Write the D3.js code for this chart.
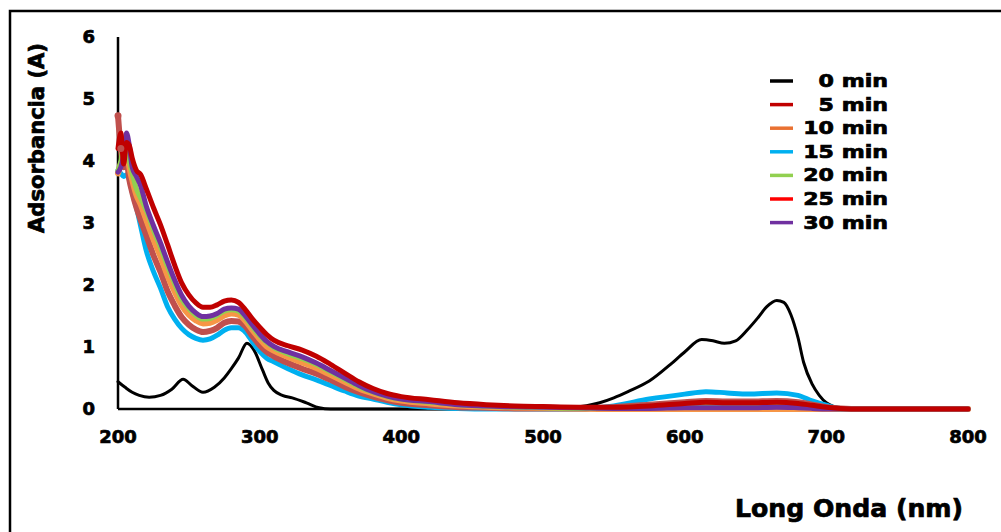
<!DOCTYPE html>
<html>
<head>
<meta charset="utf-8">
<script src="https://cdn.jsdelivr.net/npm/d3@7"></script>
<style>
  body { margin: 0; background: #fff; }
  svg { display: block; font-family: "DejaVu Sans", sans-serif; font-weight: bold; }
  text { stroke: #000; stroke-width: 0.7px; }
</style>
</head>
<body>
<svg id="chart" width="1001" height="532"></svg>
<script>
// UV-Vis spectra, absorbance vs wavelength, one curve per time

const xTicks = [200, 300, 400, 500, 600, 700, 800];
const yTicks = [0, 1, 2, 3, 4, 5, 6];

// 0 min has its own wavelength grid (sharp bands)
const wavelengths0 = [200, 205, 210, 215, 222, 230, 238, 246, 252, 260, 268, 275, 280, 285, 291, 296, 302, 306, 310, 316, 323, 333, 342, 350, 400, 450, 500, 520, 540, 550, 560, 575, 590, 600, 612, 620, 628, 636, 644, 652, 658, 665, 670, 675, 680, 684, 690, 695, 700, 705, 712, 720, 800];
const absorb0 = [0.44, 0.35, 0.27, 0.22, 0.19, 0.22, 0.32, 0.48, 0.38, 0.27, 0.35, 0.5, 0.65, 0.82, 1.06, 0.95, 0.63, 0.42, 0.3, 0.22, 0.18, 0.1, 0.02, 0, 0, 0, 0, 0.02, 0.1, 0.18, 0.28, 0.45, 0.72, 0.92, 1.12, 1.1, 1.06, 1.1, 1.27, 1.48, 1.65, 1.75, 1.72, 1.52, 1.15, 0.75, 0.4, 0.22, 0.1, 0.04, 0.01, 0, 0];

// shared grid for the other times
const wavelengths = [200, 202, 204, 206, 208, 210, 213, 216, 220, 225, 230, 235, 240, 245, 250, 255, 260, 265, 270, 275, 280, 285, 290, 295, 300, 305, 310, 320, 330, 340, 350, 360, 370, 380, 390, 400, 420, 440, 460, 480, 500, 525, 550, 575, 600, 615, 630, 645, 665, 680, 690, 700, 710, 725, 750, 800];
const absorb5 = [4.2, 4.45, 3.95, 4.3, 4.25, 4.05, 3.85, 3.78, 3.55, 3.25, 2.97, 2.65, 2.32, 2.03, 1.84, 1.71, 1.64, 1.64, 1.68, 1.74, 1.76, 1.72, 1.6, 1.45, 1.32, 1.2, 1.11, 1.02, 0.95, 0.85, 0.72, 0.58, 0.44, 0.33, 0.25, 0.2, 0.15, 0.1, 0.07, 0.05, 0.04, 0.03, 0.03, 0.05, 0.09, 0.11, 0.1, 0.1, 0.11, 0.09, 0.06, 0.03, 0.01, 0, 0, 0];
const absorb10 = [3.8, 3.95, 4.05, 4.2, 3.9, 3.7, 3.45, 3.3, 3.05, 2.74, 2.46, 2.15, 1.89, 1.67, 1.52, 1.43, 1.38, 1.39, 1.44, 1.51, 1.54, 1.52, 1.42, 1.27, 1.13, 1.01, 0.94, 0.84, 0.75, 0.66, 0.55, 0.44, 0.33, 0.25, 0.18, 0.135, 0.09, 0.055, 0.035, 0.025, 0.02, 0.01, 0, 0, 0, 0, 0, 0, 0, 0, 0, 0, 0, 0, 0, 0];
const absorb15 = [3.85, 3.8, 3.75, 3.78, 3.7, 3.5, 3.25, 2.95, 2.55, 2.22, 1.95, 1.65, 1.45, 1.3, 1.2, 1.14, 1.11, 1.13, 1.19, 1.27, 1.31, 1.31, 1.24, 1.08, 0.93, 0.82, 0.76, 0.65, 0.55, 0.47, 0.38, 0.29, 0.21, 0.16, 0.11, 0.07, 0.03, 0.01, 0, 0, 0, 0, 0.05, 0.16, 0.24, 0.28, 0.26, 0.24, 0.26, 0.22, 0.13, 0.06, 0.01, 0, 0, 0];
const absorb20 = [3.85, 4.0, 4.3, 4.2, 4.0, 3.8, 3.55, 3.4, 3.2, 2.89, 2.61, 2.3, 2.02, 1.77, 1.62, 1.51, 1.45, 1.46, 1.51, 1.58, 1.6, 1.58, 1.47, 1.32, 1.18, 1.07, 0.99, 0.89, 0.81, 0.72, 0.6, 0.48, 0.36, 0.27, 0.2, 0.155, 0.11, 0.07, 0.045, 0.03, 0.02, 0.01, 0.02, 0.04, 0.07, 0.08, 0.08, 0.08, 0.1, 0.08, 0.05, 0.02, 0, 0, 0, 0];
const absorb25 = [4.73, 4.2, 3.9, 4.0, 3.7, 3.5, 3.25, 3.05, 2.8, 2.48, 2.21, 1.9, 1.67, 1.48, 1.36, 1.28, 1.24, 1.26, 1.31, 1.39, 1.42, 1.41, 1.33, 1.17, 1.03, 0.92, 0.85, 0.74, 0.65, 0.57, 0.47, 0.36, 0.27, 0.2, 0.145, 0.1, 0.06, 0.03, 0.02, 0.01, 0.01, 0.01, 0.03, 0.07, 0.11, 0.13, 0.12, 0.12, 0.13, 0.11, 0.07, 0.03, 0.01, 0, 0, 0];
const absorb30 = [3.82, 3.9, 4.1, 4.45, 4.25, 3.9, 3.75, 3.6, 3.27, 2.96, 2.68, 2.37, 2.08, 1.83, 1.66, 1.55, 1.49, 1.5, 1.54, 1.61, 1.63, 1.61, 1.5, 1.35, 1.21, 1.09, 1.01, 0.92, 0.84, 0.74, 0.62, 0.5, 0.38, 0.28, 0.21, 0.16, 0.12, 0.07, 0.05, 0.035, 0.03, 0.02, 0.01, 0.01, 0.02, 0.02, 0.02, 0.02, 0.03, 0.02, 0.01, 0, 0, 0, 0, 0];

const seriesLabels = ['0 min', '5 min', '10 min', '15 min', '20 min', '25 min', '30 min'];
const legendColors = ['#000000', '#C00000', '#E97132', '#00B0F0', '#92D050', '#FF0000', '#7030A0'];

const series = [
    { label: '0 min', x: wavelengths0, y: absorb0, color: '#000000', width: 3 },
    { label: '15 min', x: wavelengths, y: absorb15, color: '#00B0F0', width: 5 },
    { label: '25 min', x: wavelengths, y: absorb25, color: '#C0504D', width: 6 },
    { label: '10 min', x: wavelengths, y: absorb10, color: '#F79646', width: 6 },
    { label: '20 min', x: wavelengths, y: absorb20, color: '#92D050', width: 5 },
    { label: '30 min', x: wavelengths, y: absorb30, color: '#7030A0', width: 5 },
    { label: '5 min', x: wavelengths, y: absorb5, color: '#C00000', width: 5 }
];

const svg = d3.select('#chart');

// outer frame (only left and top edges are visible)
svg.append('path')
    .attr('d', 'M10,540 L10,11 L1010,11')
    .style('fill', 'none')
    .style('stroke', '#000')
    .style('stroke-width', 2.5);

const x = d3.scaleLinear().domain([200, 800]).range([118, 968]);
const y = d3.scaleLinear().domain([0, 6]).range([409, 37]);

// tick labels
svg.selectAll('.x-tick')
    .data(xTicks)
    .enter()
    .append('text')
    .attr('class', 'x-tick')
    .attr('x', d => x(d))
    .attr('y', 443)
    .style('font-size', '18px')
    .style('text-anchor', 'middle')
    .text(d => d);

svg.selectAll('.y-tick')
    .data(yTicks)
    .enter()
    .append('text')
    .attr('class', 'y-tick')
    .attr('x', 95)
    .attr('y', d => y(d) + 6)
    .style('font-size', '18px')
    .style('text-anchor', 'end')
    .text(d => d);

// axis lines
svg.append('line')
    .attr('x1', x(200)).attr('x2', x(800))
    .attr('y1', y(0)).attr('y2', y(0))
    .style('stroke', '#000')
    .style('stroke-width', 2.5);

svg.append('line')
    .attr('x1', x(200)).attr('x2', x(200))
    .attr('y1', y(0)).attr('y2', y(6))
    .style('stroke', '#000')
    .style('stroke-width', 2.5);

// curves
const line = d3.line()
    .x(d => x(d[0]))
    .y(d => y(d[1]))
    .curve(d3.curveMonotoneX);

svg.selectAll('.spectrum')
    .data(series)
    .enter()
    .append('path')
    .attr('class', 'spectrum')
    .attr('d', d => line(d.x.map((w, i) => [w, d.y[i]])))
    .style('fill', 'none')
    .style('stroke', d => d.color)
    .style('stroke-width', d => d.width)
    .style('stroke-linejoin', 'round')
    .style('stroke-linecap', 'round');

// marker dots on the first two 25 min readings
svg.selectAll('.start-dot')
    .data([0, 1])
    .enter()
    .append('circle')
    .attr('class', 'start-dot')
    .attr('cx', i => x(wavelengths[i]))
    .attr('cy', i => y(absorb25[i]))
    .attr('r', 3.5)
    .style('fill', '#C0504D');

// axis titles
svg.append('text')
    .attr('transform', 'translate(44,138) rotate(-90)')
    .style('font-size', '21px')
    .style('text-anchor', 'middle')
    .attr('textLength', 190)
    .attr('lengthAdjust', 'spacingAndGlyphs')
    .text('Adsorbancia (A)');

svg.append('text')
    .attr('x', 849)
    .attr('y', 517)
    .style('font-size', '24px')
    .style('text-anchor', 'middle')
    .attr('textLength', 228)
    .attr('lengthAdjust', 'spacingAndGlyphs')
    .text('Long Onda (nm)');

// legend
const legend = svg.selectAll('.legend-item')
    .data(seriesLabels)
    .enter()
    .append('g')
    .attr('class', 'legend-item')
    .attr('transform', (d, i) => `translate(0, ${81 + i * 23.6})`);

legend.append('line')
    .attr('x1', 770).attr('x2', 793)
    .attr('y1', 0).attr('y2', 0)
    .style('stroke', (d, i) => legendColors[i])
    .style('stroke-width', 3.5);

legend.append('text')
    .attr('x', 888)
    .attr('y', 6)
    .style('font-size', '17px')
    .style('text-anchor', 'end')
    .text(d => d)
    .each(function() {
        // the original labels are drawn wide, stretch them a bit
        const len = this.getComputedTextLength();
        d3.select(this)
            .attr('textLength', len * 1.3)
            .attr('lengthAdjust', 'spacingAndGlyphs');
    });
</script>
</body>
</html>
